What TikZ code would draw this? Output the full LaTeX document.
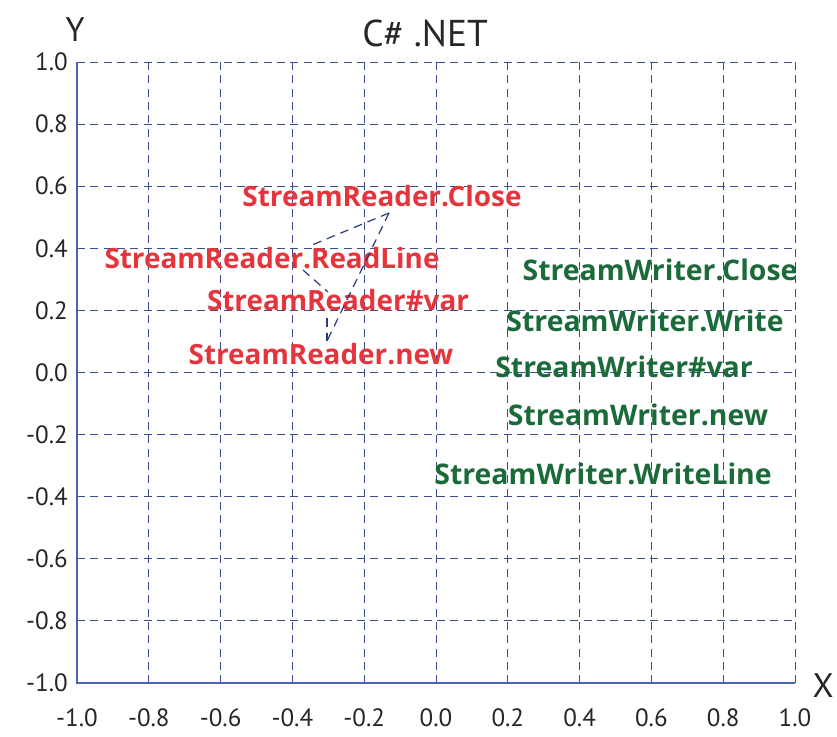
\documentclass[tikz,border=0pt]{standalone}
\usepackage{fontspec}
\setmainfont{PT Sans}
\newfontfamily\labelfont{Open Sans}
\usetikzlibrary{calc}
\definecolor{gridblue}{HTML}{3A4C8C}
\definecolor{axisblue}{HTML}{4A64B0}
\definecolor{linkblue}{HTML}{2A3A7A}
\definecolor{readerred}{HTML}{E5343C}
\definecolor{writergreen}{HTML}{1B6B3A}
\tikzset{
  gridline/.style={gridblue, line width=0.75pt, dash pattern=on 6pt off 4pt},
  axisline/.style={axisblue, line width=1.5pt},
  ticklabel/.style={inner sep=0pt, font=\fontsize{18.75}{20}\selectfont, text=black!85},
  reader/.style={inner sep=0pt, text=readerred, font=\labelfont\bfseries\fontsize{20.9}{23}\selectfont},
  writer/.style={inner sep=0pt, text=writergreen, font=\labelfont\bfseries\fontsize{21.3}{23}\selectfont},
  link/.style={linkblue, line width=0.9pt, dash pattern=on 6.5pt off 4.5pt}
}
\begin{document}
\begin{tikzpicture}[x=0.75pt,y=-0.75pt]
\useasboundingbox (0,0) rectangle (837,736);
% grid
\foreach \i in {1,...,10}
  \draw[gridline] ({77+\i*71.8},62) -- ({77+\i*71.8},683);
\foreach \i in {0,...,9}
  \draw[gridline] (77,{62+\i*62.1}) -- (795,{62+\i*62.1});
% axes
\draw[axisline] (77,62) -- (77,683) -- (795,683);
% tick labels
\foreach \v [count=\i from 0] in {-1.0,-0.8,-0.6,-0.4,-0.2,0.0,0.2,0.4,0.6,0.8,1.0}
  \node[ticklabel] (xt\i) at ({77+\i*71.8},718) {\v};
\foreach \v [count=\i from 0] in {1.0,0.8,0.6,0.4,0.2,0.0,-0.2,-0.4,-0.6,-0.8,-1.0}
  \node[ticklabel, anchor=east] (yt\i) at (68,{62+\i*62.1}) {\v};
% titles
\node[inner sep=0pt, font=\fontsize{28}{30}\selectfont, text=black!85] (title) at (425,33) {C\# .NET};
\node[inner sep=0pt, font=\fontsize{25.5}{27}\selectfont, text=black!85] (ylab) at (75,30) {Y};
\node[inner sep=0pt, font=\fontsize{25.5}{27}\selectfont, text=black!85] (xlab) at (823,686) {X};
% StreamReader nodes
\node[reader] (rclose) at (382,196) {StreamReader.Close};
\node[reader] (rread) at (272,258) {StreamReader.ReadLine};
\node[reader] (rvar) at (338,300) {StreamReader\#var};
\node[reader] (rnew) at (321,354) {StreamReader.new};
% StreamWriter nodes
\node[writer] (wclose) at (660,270) {StreamWriter.Close};
\node[writer] (wwrite) at (645,321) {StreamWriter.Write};
\node[writer] (wvar) at (624,367) {StreamWriter\#var};
\node[writer] (wnew) at (638,415) {StreamWriter.new};
\node[writer] (wwl) at (603,474) {StreamWriter.WriteLine};
% connector ports
\coordinate (rcloseP) at ($(rclose.center)+(7,17)$);
\coordinate (rreadT) at ($(rread.center)+(40,-13)$);
\coordinate (rreadB) at ($(rread.center)+(31,12)$);
\coordinate (rvarT) at ($(rvar.center)+(-10,-8)$);
\coordinate (rvarB) at ($(rvar.center)+(-11,18)$);
\coordinate (rnewT) at ($(rnew.center)+(6,-13)$);
% connectors
\draw[link] (rcloseP) -- (rreadT);
\draw[link] (rcloseP) -- (rnewT);
\draw[link] (rreadB) -- (rvarT);
\draw[link] (rvarB) -- (rnewT);
\end{tikzpicture}
\end{document}
